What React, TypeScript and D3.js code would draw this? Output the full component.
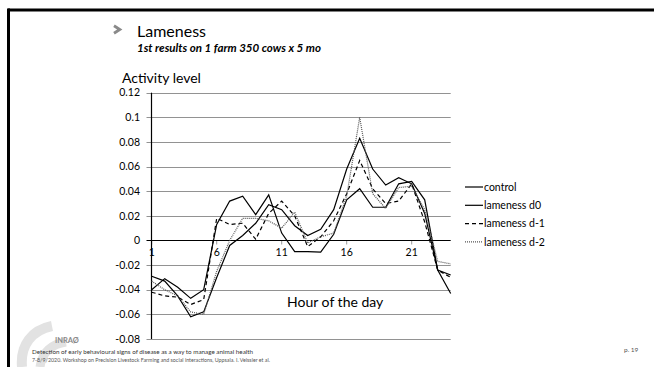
import React from "react";
import * as d3 from "d3";

const hours = d3.range(1, 25);
const controlValues = [-0.04, -0.031, -0.038, -0.047, -0.04, 0.013, 0.032, 0.036, 0.021, 0.037, 0.006, -0.009, -0.009, -0.0095, 0.005, 0.033, 0.042, 0.027, 0.027, 0.046, 0.048, 0.033, -0.024, -0.043];
const d0Values = [-0.029, -0.033, -0.045, -0.062, -0.058, -0.03, -0.004, 0.004, 0.014, 0.029, 0.025, 0.012, 0.004, 0.009, 0.025, 0.058, 0.083, 0.058, 0.045, 0.051, 0.046, 0.022, -0.024, -0.028];
const d1Values = [-0.042, -0.045, -0.046, -0.052, -0.048, 0.018, 0.013, 0.014, 0.001, 0.022, 0.032, 0.02, -0.005, 0.003, 0.016, 0.038, 0.065, 0.042, 0.03, 0.032, 0.046, 0.015, -0.024, -0.03];
const d2Values = [-0.033, -0.04, -0.045, -0.058, -0.06, -0.025, 0.0, 0.018, 0.018, 0.016, 0.01, 0.023, -0.002, 0.003, 0.006, 0.036, 0.1, 0.038, 0.026, 0.043, 0.044, 0.025, -0.017, -0.019];
const seriesNames = ["control", "lameness d0", "lameness d-1", "lameness d-2"];
const yTicks = [-0.08, -0.06, -0.04, -0.02, 0, 0.02, 0.04, 0.06, 0.08, 0.1, 0.12];
const xTickLabels = [1, 6, 11, 16, 21];

const FONT = "Lato, 'Open Sans', sans-serif";

export default function App() {
  const x = d3.scaleLinear().domain([1, 24]).range([151.7, 450.7]);
  const y = d3.scaleLinear().domain([-0.08, 0.12]).range([339, 92.7]);
  const line = d3
    .line<number>()
    .x((_, i) => x(hours[i]))
    .y((v) => y(v));

  const series = [
    { name: seriesNames[0], values: controlValues, stroke: "#000", dash: undefined, width: 1.2 },
    { name: seriesNames[1], values: d0Values, stroke: "#000", dash: undefined, width: 1.2 },
    { name: seriesNames[2], values: d1Values, stroke: "#000", dash: "4,3", width: 1.2 },
    { name: seriesNames[3], values: d2Values, stroke: "#555", dash: "1,1", width: 1.2 },
  ];

  const fmt = (v: number) => String(Number(v.toFixed(2)));

  return (
    <div style={{ position: "fixed", left: 0, top: 0 }}>
      <svg width={654} height={367} style={{ display: "block", background: "#fff" }}>
        {/* frame */}
        <line x1={8} y1={10} x2={654} y2={10} stroke="#000" strokeWidth={3} />
        <line x1={8.5} y1={8.5} x2={8.5} y2={367} stroke="#000" strokeWidth={3} />

        {/* decorative logo */}
        <path d="M22,367 C20,345 32,330 52,326" fill="none" stroke="#e2e2e2" strokeWidth={10} />
        <path d="M40,367 C42,352 52,344 66,342" fill="none" stroke="#e2e2e2" strokeWidth={9} />

        {/* title */}
        <path d="M114,25.8 L119.8,29.5 L114,33.2" fill="none" stroke="#8a8a8a" strokeWidth={2.8} />
        <text x={137} y={37} fontFamily={FONT} fontSize={16} fill="#000">Lameness</text>
        <text x={137} y={52} fontFamily={FONT} fontSize={11.5} fontWeight="bold" fontStyle="italic" fill="#000" textLength={184} lengthAdjust="spacingAndGlyphs">
          1st results on 1 farm 350 cows x 5 mo
        </text>
        <text x={122} y={83} fontFamily={FONT} fontSize={14} fill="#000">Activity level</text>

        {/* gridlines */}
        {yTicks.map((t) => (
          <g key={t}>
            {t !== 0 && (
              <line x1={146.5} x2={450.7} y1={Math.round(y(t)) + 0.5} y2={Math.round(y(t)) + 0.5} stroke="#929292" strokeWidth={1} />
            )}
            <text x={140} y={y(t)} dy="0.35em" textAnchor="end" fontFamily={FONT} fontSize={10.5} fill="#000">
              {fmt(t)}
            </text>
          </g>
        ))}
        {/* x tick marks */}
        {xTickLabels.map((h) => (
          <g key={h}>
            <line x1={x(h)} x2={x(h)} y1={y(0)} y2={y(0) + 4} stroke="#9a9a9a" />
            <text x={x(h)} y={y(0) + 16} textAnchor="middle" fontFamily={FONT} fontSize={10.5} fill="#000">
              {h}
            </text>
          </g>
        ))}
        {/* axes */}
        <line x1={146.5} x2={450.7} y1={Math.round(y(0)) + 0.5} y2={Math.round(y(0)) + 0.5} stroke="#000" strokeWidth={1.2} />
        <line x1={151.5} x2={151.5} y1={y(0.12)} y2={y(-0.08)} stroke="#000" strokeWidth={1.2} />

        {/* series */}
        {series.map((s) => (
          <path
            key={s.name}
            d={line(s.values) || ""}
            fill="none"
            stroke={s.stroke}
            strokeWidth={s.width}
            strokeDasharray={s.dash}
            strokeLinejoin="miter"
          />
        ))}

        <text x={287} y={307} fontFamily={FONT} fontSize={14} fill="#000">Hour of the day</text>

        {/* legend */}
        {series.map((s, i) => {
          const ly = 187 + i * 18.3;
          return (
            <g key={s.name}>
              <line x1={465} x2={483} y1={ly} y2={ly} stroke={s.stroke} strokeWidth={s.width} strokeDasharray={s.dash} />
              <text x={484} y={ly} dy="0.35em" fontFamily={FONT} fontSize={10.5} fill="#000">
                {s.name}
              </text>
            </g>
          );
        })}

        {/* footer */}
        <text x={55} y={343} fontFamily={FONT} fontSize={7.5} fontWeight="bold" fill="#8a8a8a">INRAØ</text>
        <text x={32} y={354} fontFamily={FONT} fontSize={5.8} fill="#333" textLength={221} lengthAdjust="spacingAndGlyphs">
          Detection of early behavioural signs of disease as a way to manage animal health
        </text>
        <text x={32} y={362} fontFamily={FONT} fontSize={5.8} fill="#555" textLength={238} lengthAdjust="spacingAndGlyphs">
          7-8/9/2020. Workshop on Precision Livestock Farming and social interactions, Uppsala. I. Veissier et al.
        </text>
        <text x={624} y={352} fontFamily={FONT} fontSize={6.5} fill="#555">p. 19</text>
      </svg>
    </div>
  );
}
